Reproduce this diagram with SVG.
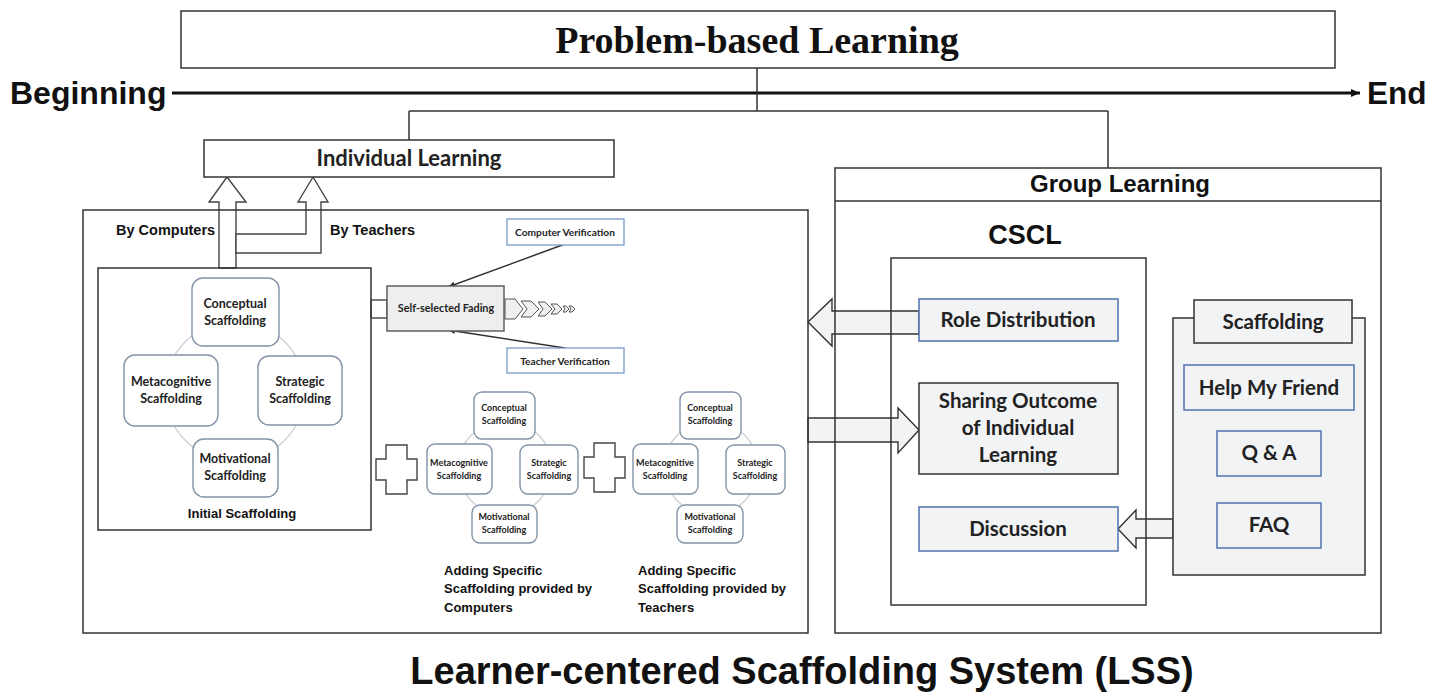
<svg xmlns="http://www.w3.org/2000/svg" width="1442" height="694" viewBox="0 0 1442 694">
  <style>
    .frame { fill: none; stroke: #333; stroke-width: 1.5; }
    .box { fill: #fff; stroke: #333; stroke-width: 1.5; }
    .gbox { fill: #f2f3f5; stroke: #333; stroke-width: 1.5; }
    .bbox { fill: #f2f3f5; stroke: #4f73b0; stroke-width: 1.5; }
    .vbox { fill: #fff; stroke: #6f8fc4; stroke-width: 1.2; }
    .node { fill: #fff; stroke: #8393a8; stroke-width: 1.4; }
    .ring { fill: none; stroke: #c9ced6; stroke-width: 1.2; }
    .block { fill: #f2f3f5; stroke: #333; stroke-width: 1.4; }
    .hollow { fill: #fff; stroke: #444; stroke-width: 1.4; }
    .line { fill: none; stroke: #333; stroke-width: 1.5; }
    .arial { font-family: "Liberation Sans", Arial, sans-serif; font-weight: bold; fill: #111; }
    .serif { font-family: "Liberation Serif", "Times New Roman", serif; font-weight: bold; fill: #111; }
    .cal { font-family: Lato, "Open Sans", sans-serif; font-weight: bold; fill: #222; text-anchor: middle; }
    .mid { text-anchor: middle; }
  </style>
  <defs>
    <marker id="timeHead" markerWidth="10" markerHeight="10" refX="9" refY="5" orient="auto" markerUnits="userSpaceOnUse">
      <path d="M0,1 L9,5 L0,9 Z" fill="#111"/>
    </marker>
    <marker id="smallHead" markerWidth="8" markerHeight="8" refX="7" refY="4" orient="auto" markerUnits="userSpaceOnUse">
      <path d="M0,1 L7,4 L0,7 Z" fill="#333"/>
    </marker>
    <g id="plus">
      <path d="M10,0 H31 V14 H41 V35 H31 V49 H10 V35 H0 V14 H10 Z" class="hollow"/>
    </g>
  </defs>

  <!-- timeline -->
  <g id="timeline">
    <line x1="172" y1="93" x2="1360" y2="93" stroke="#111" stroke-width="3" marker-end="url(#timeHead)"/>
    <text x="10" y="104" class="arial" font-size="32">Beginning</text>
    <text x="1367" y="104" class="arial" font-size="31.5">End</text>
  </g>

  <!-- connectors -->
  <g id="connectors">
    <path class="line" d="M757,68 V111 M409,111 H1108 M409,111 V140 M1108,111 V168"/>
    <!-- up arrows into Individual Learning -->
    <polygon class="hollow" points="219,268 219,202 209,202 227,177 246,202 236,202 236,268"/>
    <polygon class="hollow" points="236,234 306,234 306,202 298,202 313,177 328,202 321,202 321,253 236,253"/>
    <!-- link from initial scaffolding to fading -->
    <rect x="371" y="300" width="16" height="18" class="hollow"/>
    <!-- verification arrows -->
    <line x1="565" y1="244" x2="448" y2="287" stroke="#333" stroke-width="1.5" marker-end="url(#smallHead)"/>
    <line x1="565" y1="348" x2="448" y2="330" stroke="#333" stroke-width="1.5" marker-end="url(#smallHead)"/>
    <!-- fading chevrons -->
    <g fill="#f0f0f0" stroke="#555" stroke-width="1">
      <polygon points="505,299 515,299 523,309 515,319 505,319 505,299"/>
      <polygon points="521,301 531,301 539,309 531,317 521,317 527,309"/>
      <polygon points="538,302 545,302 552,309 545,316 538,316 543,309"/>
      <polygon points="551,304 557,304 562,309 557,314 551,314 555,309"/>
      <polygon points="563,306 566,306 569,309 566,312 563,312 565,309"/>
      <polygon points="569,306 572,306 575,309 572,312 569,312 571,309"/>
    </g>
    <!-- group learning block arrows -->
    <polygon class="block" points="919,311 832,311 832,299 808,322 832,346 832,334 919,334"/>
    <polygon class="block" points="808,418 898,418 898,408 919,430 898,453 898,442 808,442"/>
    <polygon class="block" points="1173,519 1136,519 1136,510 1118,529 1136,548 1136,538 1173,538"/>
  </g>

  <!-- Problem-based Learning -->
  <g id="pbl">
    <rect x="181" y="11" width="1154" height="57" class="box" fill="none"/>
    <text x="757" y="53" class="serif mid" font-size="38">Problem-based Learning</text>
  </g>

  <!-- Individual Learning -->
  <g id="individual-learning">
    <rect x="204" y="140" width="410" height="37" class="box"/>
    <text x="409" y="166" class="cal" font-size="22">Individual Learning</text>
  </g>

  <!-- LSS left panel -->
  <g id="lss-panel">
    <rect x="83" y="210" width="725" height="423" class="frame"/>
    <text x="116" y="235" class="arial" font-size="14.5">By Computers</text>
    <text x="330" y="235" class="arial" font-size="14.5">By Teachers</text>
  </g>

  <!-- initial scaffolding -->
  <g id="initial-scaffolding">
    <rect x="98" y="268" width="273" height="262" class="frame" stroke="#555"/>
    <circle cx="235" cy="391" r="70" class="ring"/>
    <rect x="192" y="278" width="87" height="68" rx="11" class="node"/>
    <text class="cal" font-size="12.5"><tspan x="235" y="308">Conceptual</tspan><tspan x="235" y="325">Scaffolding</tspan></text>
    <rect x="124" y="355" width="94" height="71" rx="11" class="node"/>
    <text class="cal" font-size="12.5"><tspan x="171" y="386">Metacognitive</tspan><tspan x="171" y="403">Scaffolding</tspan></text>
    <rect x="258" y="356" width="84" height="69" rx="11" class="node"/>
    <text class="cal" font-size="12.5"><tspan x="300" y="386">Strategic</tspan><tspan x="300" y="403">Scaffolding</tspan></text>
    <rect x="193" y="439" width="85" height="58" rx="11" class="node"/>
    <text class="cal" font-size="12.5"><tspan x="235" y="463">Motivational</tspan><tspan x="235" y="480">Scaffolding</tspan></text>
    <text x="242" y="518" class="arial mid" font-size="13">Initial Scaffolding</text>
  </g>

  <!-- self-selected fading -->
  <g id="fading">
    <rect x="387" y="286" width="117" height="45" fill="#eeeeee" stroke="#555" stroke-width="1.4"/>
    <text x="446" y="312" class="cal" font-size="10.8">Self-selected Fading</text>
  </g>
  <g id="computer-verification">
    <rect x="507" y="219" width="117" height="26" class="vbox"/>
    <text x="565" y="236" class="cal" font-size="10.2">Computer Verification</text>
  </g>
  <g id="teacher-verification">
    <rect x="507" y="348" width="117" height="25" class="vbox"/>
    <text x="565" y="365" class="cal" font-size="10.2">Teacher Verification</text>
  </g>

  <!-- plus signs -->
  <g id="plus-computers"><use href="#plus" x="376" y="445"/></g>
  <g id="plus-teachers"><use href="#plus" x="584" y="443"/></g>

  <!-- scaffolding added by computers -->
  <g id="computer-scaffolding">
    <circle cx="505" cy="468" r="47" class="ring"/>
    <rect x="474" y="392" width="61" height="47" rx="8" class="node"/>
    <text class="cal" font-size="9"><tspan x="504" y="411">Conceptual</tspan><tspan x="504" y="424">Scaffolding</tspan></text>
    <rect x="427" y="444" width="65" height="50" rx="8" class="node"/>
    <text class="cal" font-size="9"><tspan x="459" y="466">Metacognitive</tspan><tspan x="459" y="479">Scaffolding</tspan></text>
    <rect x="520" y="445" width="58" height="49" rx="8" class="node"/>
    <text class="cal" font-size="9"><tspan x="549" y="466">Strategic</tspan><tspan x="549" y="479">Scaffolding</tspan></text>
    <rect x="472" y="505" width="65" height="38" rx="8" class="node"/>
    <text class="cal" font-size="9"><tspan x="504" y="520">Motivational</tspan><tspan x="504" y="533">Scaffolding</tspan></text>
    <text class="arial" font-size="13"><tspan x="444" y="575">Adding Specific</tspan><tspan x="444" y="593">Scaffolding provided by</tspan><tspan x="444" y="612">Computers</tspan></text>
  </g>

  <!-- scaffolding added by teachers -->
  <g id="teacher-scaffolding">
    <circle cx="711" cy="468" r="47" class="ring"/>
    <rect x="680" y="392" width="61" height="47" rx="8" class="node"/>
    <text class="cal" font-size="9"><tspan x="710" y="411">Conceptual</tspan><tspan x="710" y="424">Scaffolding</tspan></text>
    <rect x="633" y="444" width="65" height="50" rx="8" class="node"/>
    <text class="cal" font-size="9"><tspan x="665" y="466">Metacognitive</tspan><tspan x="665" y="479">Scaffolding</tspan></text>
    <rect x="726" y="445" width="59" height="49" rx="8" class="node"/>
    <text class="cal" font-size="9"><tspan x="755" y="466">Strategic</tspan><tspan x="755" y="479">Scaffolding</tspan></text>
    <rect x="677" y="505" width="66" height="38" rx="8" class="node"/>
    <text class="cal" font-size="9"><tspan x="710" y="520">Motivational</tspan><tspan x="710" y="533">Scaffolding</tspan></text>
    <text class="arial" font-size="13"><tspan x="638" y="575">Adding Specific</tspan><tspan x="638" y="593">Scaffolding provided by</tspan><tspan x="638" y="612">Teachers</tspan></text>
  </g>

  <!-- group learning panel -->
  <g id="group-learning">
    <rect x="835" y="168" width="546" height="465" class="frame"/>
    <line x1="835" y1="201" x2="1381" y2="201" class="line"/>
    <text x="1120" y="192" class="arial mid" font-size="24">Group Learning</text>
  </g>

  <g id="cscl">
    <rect x="891" y="258" width="255" height="347" class="frame"/>
    <text x="1025" y="244" class="arial mid" font-size="27">CSCL</text>
  </g>

  <g id="role-distribution">
    <rect x="919" y="299" width="199" height="42" class="bbox"/>
    <text x="1018" y="327" class="cal" font-size="20.5">Role Distribution</text>
  </g>

  <g id="sharing-outcome">
    <rect x="919" y="383" width="199" height="91" class="gbox"/>
    <text class="cal" font-size="20.5"><tspan x="1018" y="408">Sharing Outcome</tspan><tspan x="1018" y="435">of Individual</tspan><tspan x="1018" y="462">Learning</tspan></text>
  </g>

  <g id="discussion">
    <rect x="919" y="507" width="199" height="44" class="bbox"/>
    <text x="1018" y="536" class="cal" font-size="20.5">Discussion</text>
  </g>

  <g id="scaffolding-panel">
    <rect x="1173" y="318" width="192" height="257" class="gbox" stroke="#444"/>
    <rect x="1194" y="300" width="158" height="43" class="gbox"/>
    <text x="1273" y="329" class="cal" font-size="20.5">Scaffolding</text>
  </g>
  <g id="help-my-friend">
    <rect x="1184" y="365" width="170" height="45" class="bbox"/>
    <text x="1269" y="395" class="cal" font-size="20.5">Help My Friend</text>
  </g>
  <g id="qa">
    <rect x="1217" y="431" width="104" height="45" class="bbox"/>
    <text x="1269" y="460" class="cal" font-size="20.5">Q &amp; A</text>
  </g>
  <g id="faq">
    <rect x="1217" y="503" width="104" height="45" class="bbox"/>
    <text x="1269" y="532" class="cal" font-size="20.5">FAQ</text>
  </g>

  <!-- system title -->
  <text x="802" y="684" class="arial mid" font-size="38">Learner-centered Scaffolding System (LSS)</text>
</svg>
